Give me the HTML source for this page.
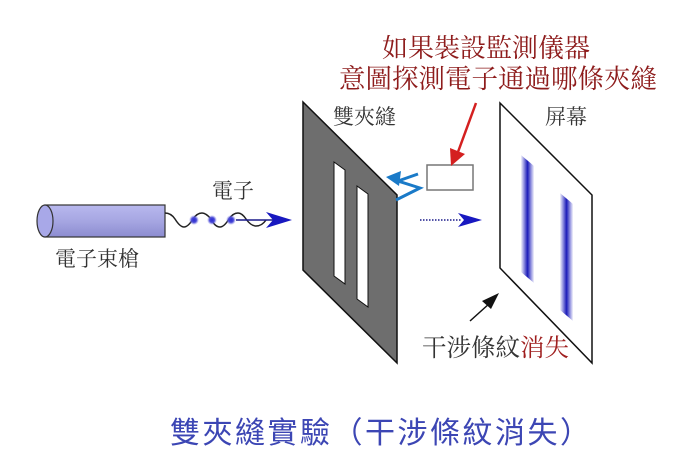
<!DOCTYPE html>
<html><head><meta charset="utf-8"><style>
html,body{margin:0;padding:0;background:#fff;}
svg{display:block;}
.serif{font-family:"Liberation Serif","Noto Serif CJK SC",serif;}
.sans{font-family:"Liberation Sans","Noto Sans CJK TC",sans-serif;}
</style></head><body>
<svg width="694" height="457" viewBox="0 0 694 457" xmlns="http://www.w3.org/2000/svg">
<defs>
<linearGradient id="cyl" x1="0" y1="0" x2="0" y2="1">
<stop offset="0" stop-color="#b8b8ee"/><stop offset="0.5" stop-color="#a6a6e2"/><stop offset="1" stop-color="#8c8cd0"/>
</linearGradient>
<linearGradient id="stripe" x1="0" y1="0" x2="1" y2="0">
<stop offset="0" stop-color="#2020c0" stop-opacity="0.05"/><stop offset="0.5" stop-color="#1a1ab8"/><stop offset="1" stop-color="#2020c0" stop-opacity="0.05"/>
</linearGradient>
<radialGradient id="dot"><stop offset="0" stop-color="#2a2ad0"/><stop offset="0.5" stop-color="#4a4ad8"/><stop offset="1" stop-color="#8a8ae8" stop-opacity="0"/></radialGradient>
</defs>

<text x="382" y="57" class="serif" font-size="26" fill="#8e1c1c">如果裝設監測儀器</text>
<text x="339" y="88" class="serif" font-size="26.5" fill="#8e1c1c">意圖探測電子通過哪條夾縫</text>

<rect x="45" y="205" width="120" height="32" fill="url(#cyl)" stroke="#333" stroke-width="1.2"/>
<ellipse cx="45" cy="221" rx="8" ry="16" fill="#a8a8e8" stroke="#333" stroke-width="1.2"/>
<text x="55" y="266" class="serif" font-size="21" fill="#333">電子束槍</text>

<path d="M165,213 Q171,213 175,219 Q180,227 184,227 Q188,227 193,219 Q197,213 202,213 Q206,213 211,219 Q215,227 220,227 Q224,227 229,219 Q233,213 238,213 Q242,213 246,219 Q251,226 256,226 Q262,226 266,220" fill="none" stroke="#222" stroke-width="1.5"/>
<circle cx="194" cy="220" r="5" fill="url(#dot)"/>
<circle cx="212" cy="220" r="5" fill="url(#dot)"/>
<circle cx="231" cy="220" r="5" fill="url(#dot)"/>
<line x1="236" y1="220" x2="275" y2="220" stroke="#1a1a8a" stroke-width="1.5"/>
<polygon points="292,220 266,212 273,220 266,228" fill="#1818c0"/>
<text x="212" y="198" class="serif" font-size="21" fill="#333">電子</text>

<polygon points="303,102 397,195 397,363 303,270" fill="#6e6e6e" stroke="#111" stroke-width="1.5"/>
<polygon points="334,162 345,170 345,284 334,276" fill="#fff" stroke="#111" stroke-width="1"/>
<polygon points="357,186 368,194 368,307 357,299" fill="#fff" stroke="#111" stroke-width="1"/>
<text x="333" y="124" class="serif" font-size="21" fill="#333">雙夾縫</text>

<polyline points="396,200 420,188 398,181 418,174" fill="none" stroke="#1a7ac8" stroke-width="3"/>
<polygon points="386,177 401,171 399,186" fill="#1a7ac8"/>

<rect x="427" y="165" width="46" height="25" fill="#fff" stroke="#777" stroke-width="1.5"/>
<line x1="476" y1="103" x2="458" y2="152" stroke="#d42020" stroke-width="2.5"/>
<polygon points="451,166 450,148 465,154" fill="#d42020"/>

<line x1="420" y1="220" x2="462" y2="220" stroke="#1a1a8a" stroke-width="1.5" stroke-dasharray="1.5,1.5"/>
<polygon points="482,220 458,213 464,220 458,227" fill="#1818c0"/>

<polygon points="500,103 592,195 592,363 500,268" fill="#fff" stroke="#111" stroke-width="1.5"/>
<polygon points="521,155 534,166 534,283 521,272" fill="url(#stripe)"/>
<polygon points="560,193 573,204 573,321 560,310" fill="url(#stripe)"/>
<text x="545" y="124" class="serif" font-size="21" fill="#333">屏幕</text>

<line x1="470" y1="321" x2="490" y2="303" stroke="#111" stroke-width="1.5"/>
<polygon points="499,293 482,301 491,309" fill="#111"/>

<text x="422" y="356" class="serif" font-size="24.5" fill="#333">干涉條紋<tspan fill="#a02020">消失</tspan></text>

<text x="170" y="443" class="sans" font-size="30" fill="#3c46b4" letter-spacing="2.5">雙夾縫實驗（干涉條紋消失）</text>
</svg>
</body></html>
